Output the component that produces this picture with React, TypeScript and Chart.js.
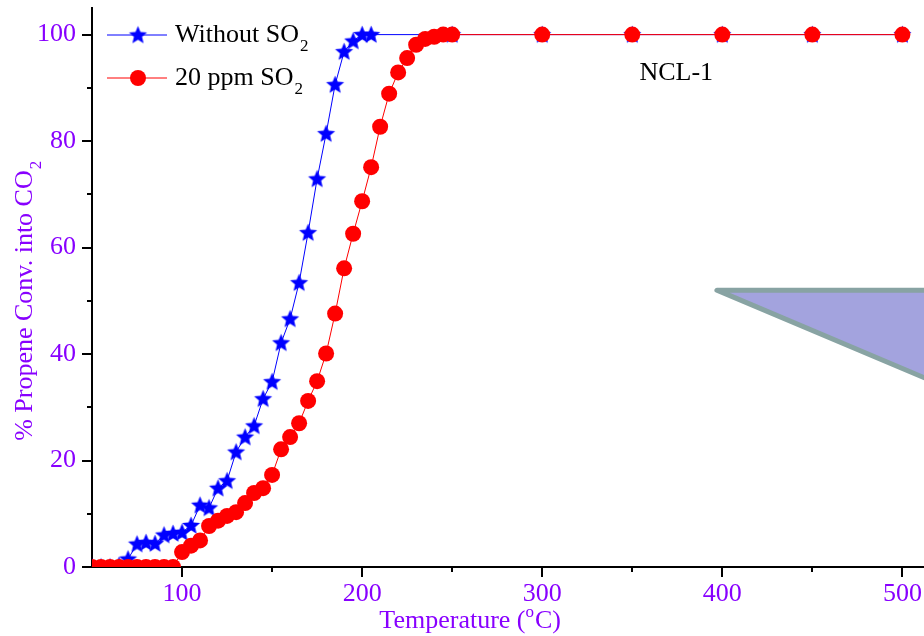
import React, { useEffect, useRef } from 'react';
import { Chart, registerables } from 'chart.js';

Chart.register(...registerables);

// ---- Data ----
const tempsWithout = [50, 55, 60, 65, 70, 75, 80, 85, 90, 95, 100, 105, 110, 115, 120, 125, 130, 135, 140, 145, 150, 155, 160, 165, 170, 175, 180, 185, 190, 195, 200, 205, 250, 300, 350, 400, 450, 500];
const convWithout = [0, 0, 0, 0.3, 1.5, 4.3, 4.6, 4.4, 6.0, 6.3, 6.5, 7.8, 11.6, 11.1, 14.8, 16.2, 21.6, 24.4, 26.5, 31.6, 34.8, 42.1, 46.6, 53.4, 62.8, 72.9, 81.4, 90.6, 96.8, 98.8, 100, 100, 100, 100, 100, 100, 100, 100];

const temps20ppm = [50, 55, 60, 65, 70, 75, 80, 85, 90, 95, 100, 105, 110, 115, 120, 125, 130, 135, 140, 145, 150, 155, 160, 165, 170, 175, 180, 185, 190, 195, 200, 205, 210, 215, 220, 225, 230, 235, 240, 245, 250, 300, 350, 400, 450, 500];
const conv20ppm = [0, 0, 0, 0, 0, 0, 0, 0, 0, 0, 2.8, 4.0, 5.0, 7.7, 8.7, 9.6, 10.3, 12.0, 13.9, 14.8, 17.3, 22.1, 24.4, 27.0, 31.2, 34.9, 40.1, 47.6, 56.1, 62.6, 68.7, 75.1, 82.7, 88.9, 92.9, 95.6, 98.1, 99.2, 99.6, 100, 100, 100, 100, 100, 100, 100];

const xTickValues = [100, 200, 300, 400, 500];
const xMinorValues = [150, 250, 350, 450];
const yTickValues = [0, 20, 40, 60, 80, 100];
const yMinorValues = [10, 30, 50, 70, 90];

const seriesLabels = ['Without SO', '20 ppm SO'];
const xTitle = ['Temperature (', 'o', 'C)'];
const yTitle = ['% Propene Conv. into CO', '2'];
const annotationText = 'NCL-1';

const PURPLE = '#8800ff';
const BLUE = '#0000ff';
const RED = '#ff0000';
const FONT = "'Liberation Serif', 'Times New Roman', serif";

function makeStar(color: string, outer: number): HTMLCanvasElement {
  const size = Math.ceil(outer * 2 + 2);
  const c = document.createElement('canvas');
  c.width = size;
  c.height = size;
  const g = c.getContext('2d')!;
  const cx = size / 2;
  const cy = size / 2 + 0.5;
  const inner = outer * 0.45;
  g.beginPath();
  for (let i = 0; i < 10; i++) {
    const r = i % 2 === 0 ? outer : inner;
    const a = -Math.PI / 2 + (i * Math.PI) / 5;
    const px = cx + r * Math.cos(a);
    const py = cy + r * Math.sin(a);
    if (i === 0) g.moveTo(px, py);
    else g.lineTo(px, py);
  }
  g.closePath();
  g.fillStyle = color;
  g.fill();
  return c;
}

function drawSubText(ctx: CanvasRenderingContext2D, x: number, y: number, main: string, sub: string, color: string) {
  ctx.fillStyle = color;
  ctx.font = `26px ${FONT}`;
  ctx.textAlign = 'left';
  ctx.textBaseline = 'alphabetic';
  ctx.fillText(main, x, y);
  const w = ctx.measureText(main).width;
  ctx.font = `17px ${FONT}`;
  ctx.fillText(sub, x + w + 1, y + 9);
}

const zeroPad = (s: any) => {
  s.paddingTop = 0;
  s.paddingBottom = 0;
  s.paddingLeft = 0;
  s.paddingRight = 0;
};

export default function App() {
  const canvasRef = useRef<HTMLCanvasElement | null>(null);

  useEffect(() => {
    const canvas = canvasRef.current;
    if (!canvas) return;
    const star = makeStar(BLUE, 9.5);

    const overlay = {
      id: 'overlay',
      afterDraw(chart: any) {
        const ctx: CanvasRenderingContext2D = chart.ctx;
        const xs = chart.scales.x;
        const ys = chart.scales.y;
        const area = chart.chartArea;
        ctx.save();

        // tick marks
        ctx.strokeStyle = '#000';
        ctx.lineWidth = 2;
        ctx.beginPath();
        yTickValues.forEach((v) => {
          const py = Math.round(ys.getPixelForValue(v));
          ctx.moveTo(area.left - 10, py);
          ctx.lineTo(area.left, py);
        });
        yMinorValues.forEach((v) => {
          const py = Math.round(ys.getPixelForValue(v));
          ctx.moveTo(area.left - 5, py);
          ctx.lineTo(area.left, py);
        });
        xTickValues.forEach((v) => {
          const px = Math.round(xs.getPixelForValue(v));
          ctx.moveTo(px, area.bottom);
          ctx.lineTo(px, area.bottom + 10);
        });
        xMinorValues.forEach((v) => {
          const px = Math.round(xs.getPixelForValue(v));
          ctx.moveTo(px, area.bottom);
          ctx.lineTo(px, area.bottom + 5);
        });
        ctx.stroke();

        // decorative triangle
        ctx.beginPath();
        ctx.moveTo(xs.getPixelForValue(397), ys.getPixelForValue(52));
        ctx.lineTo(xs.getPixelForValue(530), ys.getPixelForValue(52));
        ctx.lineTo(xs.getPixelForValue(530), ys.getPixelForValue(33));
        ctx.closePath();
        ctx.fillStyle = 'rgb(163,163,222)';
        ctx.fill();
        ctx.lineJoin = 'round';
        ctx.lineWidth = 5;
        ctx.strokeStyle = 'rgb(136,163,163)';
        ctx.stroke();

        // annotation text
        ctx.fillStyle = '#000';
        ctx.font = `26px ${FONT}`;
        ctx.textAlign = 'left';
        ctx.textBaseline = 'alphabetic';
        ctx.fillText(annotationText, xs.getPixelForValue(354), ys.getPixelForValue(91.5));

        // legend
        const lx0 = area.left + 15;
        const lx1 = area.left + 75;
        const lmx = area.left + 46;
        const ly1 = area.top + 27;
        const ly2 = area.top + 70;
        ctx.lineWidth = 1;
        ctx.strokeStyle = BLUE;
        ctx.beginPath();
        ctx.moveTo(lx0, ly1);
        ctx.lineTo(lx1, ly1);
        ctx.stroke();
        ctx.drawImage(star, lmx - star.width / 2, ly1 - star.height / 2);
        ctx.strokeStyle = RED;
        ctx.beginPath();
        ctx.moveTo(lx0, ly2);
        ctx.lineTo(lx1, ly2);
        ctx.stroke();
        ctx.fillStyle = RED;
        ctx.beginPath();
        ctx.arc(lmx, ly2, 8, 0, Math.PI * 2);
        ctx.fill();
        drawSubText(ctx, area.left + 83, ly1 + 7, seriesLabels[0], '2', '#000');
        drawSubText(ctx, area.left + 83, ly2 + 7, seriesLabels[1], '2', '#000');

        // x title
        ctx.font = `26px ${FONT}`;
        const w1 = ctx.measureText(xTitle[0]).width;
        const w3 = ctx.measureText(xTitle[2]).width;
        ctx.font = `17px ${FONT}`;
        const w2 = ctx.measureText(xTitle[1]).width;
        const total = w1 + w2 + 1 + w3;
        const cx = xs.getPixelForValue(260);
        const by = area.bottom + 61;
        let sx = cx - total / 2;
        ctx.fillStyle = PURPLE;
        ctx.font = `26px ${FONT}`;
        ctx.fillText(xTitle[0], sx, by);
        sx += w1;
        ctx.font = `17px ${FONT}`;
        ctx.fillText(xTitle[1], sx, by - 11);
        sx += w2 + 1;
        ctx.font = `26px ${FONT}`;
        ctx.fillText(xTitle[2], sx, by);

        // y title
        ctx.save();
        ctx.translate(32, ys.getPixelForValue(50));
        ctx.rotate(-Math.PI / 2);
        ctx.font = `26px ${FONT}`;
        const tw = ctx.measureText(yTitle[0]).width;
        ctx.font = `17px ${FONT}`;
        const sw = ctx.measureText(yTitle[1]).width;
        drawSubText(ctx, -(tw + sw + 1) / 2, 0, yTitle[0], yTitle[1], PURPLE);
        ctx.restore();

        ctx.restore();
      },
    };

    const chart = new Chart(canvas, {
      type: 'line',
      data: {
        datasets: [
          {
            label: '20 ppm SO2',
            data: temps20ppm.map((t, i) => ({ x: t, y: conv20ppm[i] })),
            borderColor: RED,
            backgroundColor: RED,
            borderWidth: 1,
            pointStyle: 'circle',
            pointRadius: 8,
            pointBorderWidth: 0,
            pointBackgroundColor: RED,
            tension: 0,
            clip: 0,
            order: 0,
          },
          {
            label: 'Without SO2',
            data: tempsWithout.map((t, i) => ({ x: t, y: convWithout[i] })),
            borderColor: BLUE,
            backgroundColor: BLUE,
            borderWidth: 1,
            pointStyle: star as any,
            pointRadius: 9,
            tension: 0,
            clip: 0,
            order: 1,
          },
        ],
      },
      options: {
        animation: false,
        responsive: false,
        devicePixelRatio: 1,
        layout: { autoPadding: false, padding: { top: 8, left: 0, right: 0, bottom: 0 } },
        plugins: { legend: { display: false }, tooltip: { enabled: false }, title: { display: false } },
        scales: {
          x: {
            type: 'linear',
            min: 50,
            max: 512,
            afterBuildTicks: (s: any) => {
              s.ticks = xTickValues.map((v) => ({ value: v }));
            },
            afterFit: (s: any) => {
              s.height = 69;
              zeroPad(s);
            },
            grid: { display: false, drawTicks: false },
            border: { display: true, color: '#000', width: 2 },
            ticks: { color: PURPLE, font: { family: FONT, size: 26 }, padding: 12, maxRotation: 0 },
          },
          y: {
            type: 'linear',
            min: 0,
            max: 105,
            afterBuildTicks: (s: any) => {
              s.ticks = yTickValues.map((v) => ({ value: v }));
            },
            afterFit: (s: any) => {
              s.width = 92;
              zeroPad(s);
            },
            grid: { display: false, drawTicks: false },
            border: { display: true, color: '#000', width: 2 },
            ticks: { color: PURPLE, font: { family: FONT, size: 26 }, padding: 16 },
          },
        },
      },
      plugins: [overlay],
    } as any);

    return () => chart.destroy();
  }, []);

  return (
    <div style={{ position: 'absolute', left: 0, top: 0, width: 924, height: 636, background: '#fff' }}>
      <canvas ref={canvasRef} width={924} height={636} style={{ display: 'block' }} />
    </div>
  );
}
